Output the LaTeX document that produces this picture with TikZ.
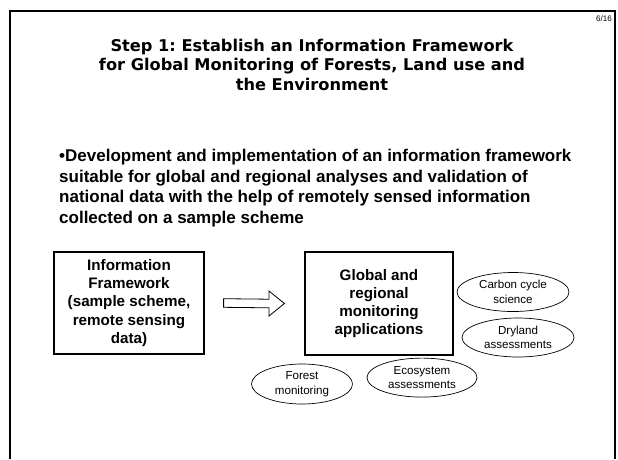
\documentclass[tikz,border=0pt]{standalone}
\usepackage{fontspec}
\setmainfont{Liberation Sans}
\newfontfamily\titlefont{DejaVu Sans}
\usetikzlibrary{shapes.geometric,calc}
\begin{document}
\frenchspacing
\begin{tikzpicture}[x=1pt,y=-1pt,
  box/.style={draw, line width=1.2pt, minimum width=150pt, minimum height=102pt, inner sep=0pt, align=center, font=\bfseries\fontsize{15.2}{18.2}\selectfont},
  oval/.style={draw, ellipse, line width=0.7pt, inner sep=0pt, align=center, font=\fontsize{11.6}{14.5}\selectfont},
  arrowbox/.style={draw, line width=0.8pt, fill=white, line join=miter},
  frameline/.style={line width=2pt}]
\useasboundingbox (0,0) rectangle (618,459);
\draw[frameline] (10,459) -- (10,11) -- (615,11) -- (615,459);
\node[font=\fontsize{8}{9}\selectfont, anchor=east, inner sep=0pt] (pg) at (612,19) {6/16};
\node[font=\titlefont\bfseries\fontsize{16.2}{19.5}\selectfont, align=center, anchor=north, inner sep=0pt] (title) at (312,38.5)
  {Step 1: Establish an Information Framework\\for Global Monitoring of Forests, Land use and\\the Environment};
\node[font=\bfseries\fontsize{17}{20.8}\selectfont, align=left, anchor=north west, inner sep=0pt] (bullet) at (59,148.7)
  {•Development and implementation of an information framework\\suitable for global and regional analyses and validation of\\national data with the help of remotely sensed information\\collected on a sample scheme};
\node[box] (info) at (129,303) {Information\\Framework\\(sample scheme,\\remote sensing\\data)};
\node[box, minimum width=148pt, minimum height=103pt] (glob) at (379,303.5) {Global and\\regional\\monitoring\\applications};
\coordinate (a0) at ($(info.east)+(19,0)$);
\coordinate (a1) at ($(glob.west)+(-20,0)$);
\draw[arrowbox] ($(a0)+(0,-4.3)$) -- ($(a1)+(-15.5,-4.3)$) -- ($(a1)+(-15.5,-12.6)$) -- (a1)
  -- ($(a1)+(-15.5,12.6)$) -- ($(a1)+(-15.5,4.3)$) -- ($(a0)+(0,4.3)$) -- cycle;
\node[oval, minimum width=112pt, minimum height=39pt] (carbon) at (513,292) {Carbon cycle\\science};
\node[oval, minimum width=112pt, minimum height=39pt] (dry) at (518,337.5) {Dryland\\assessments};
\node[oval, minimum width=101pt, minimum height=40pt] (forest) at (302,384) {Forest\\monitoring};
\node[oval, minimum width=110pt, minimum height=39pt] (eco) at (422,377.6) {Ecosystem\\assessments};
\end{tikzpicture}
\end{document}
